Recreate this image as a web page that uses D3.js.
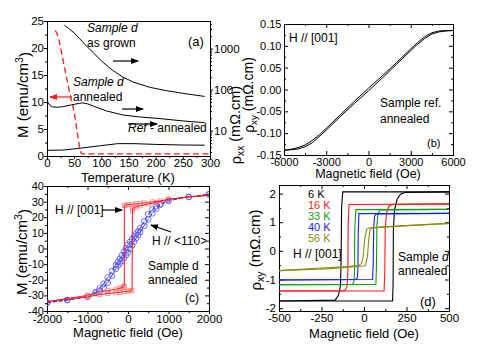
<!DOCTYPE html>
<html>
<head>
<meta charset="utf-8">
<script src="https://cdn.jsdelivr.net/npm/d3@7"></script>
<style>
  body { margin: 0; background: #fff; }
  .axis .domain { display: none; }
  .axis line { stroke: #000; }
  .axis text { fill: #000; }
</style>
</head>
<body>
<div id="chart"></div>
<script>
// ---- (a) M(T) and rho_xx(T) ----
var tempRed = [15, 18, 22, 28, 35, 42, 50, 56, 60, 63, 66, 300];
var magRed = [23.2, 22.8, 21.5, 18.5, 15, 11.5, 8.2, 4.2, 1.5, 0.5, 0.4, 0.4];
var tempGrown = [32, 40, 50, 60, 70, 85, 100, 120, 140, 160, 190, 220, 250, 290];
var rhoGrown = [3700, 3100, 2400, 1750, 1250, 800, 500, 300, 200, 150, 113, 94, 81, 68];
var tempAnn = [1, 5, 10, 20, 30, 45, 60, 66, 75, 86, 110, 140, 170, 210, 250, 290];
var rhoAnn = [50, 41.5, 37.8, 37, 38.5, 42.3, 46.4, 47.3, 44.7, 39.2, 30, 24, 21.5, 19.5, 17.2, 15.6];
var tempRef = [1, 30, 60, 100, 130, 160, 200, 250, 290];
var rhoRef = [3.3, 3.35, 3.7, 4.3, 4.8, 4.8, 4.6, 4.45, 4.4];

// ---- (b) rho_xy(H), reference sample ----
var fieldB = [-6000, -5500, -5000, -4500, -4000, -3500, -3000, -2000, -1000, 0, 1000, 2000, 3000, 3500, 4000, 4500, 5000, 5500, 6000];
var rhoBUp = [-0.139, -0.138, -0.136, -0.131, -0.122, -0.108, -0.093, -0.062, -0.032, -0.003, 0.027, 0.058, 0.089, 0.104, 0.117, 0.127, 0.132, 0.134, 0.135];
var rhoBDown = [-0.139, -0.137, -0.133, -0.127, -0.117, -0.104, -0.089, -0.058, -0.027, 0.003, 0.032, 0.062, 0.093, 0.108, 0.121, 0.130, 0.134, 0.135, 0.135];

// ---- (c) M(H) loops ----
var fieldRedDown = [2000, 1500, 1000, 800, 600, 400, 300, 200, 100, 0, -50, -90, -92, -100, -150, -200, -300, -500, -700, -1000, -1500, -2000];
var magRedDown = [34, 33, 31.5, 30.5, 29.8, 29.2, 28.9, 28.6, 28.3, 28, 27.8, 27.6, -24, -24.5, -25, -25.5, -26, -27, -28, -30, -32, -34];
var fieldRedUp = [-2000, -1500, -1000, -700, -500, -300, -200, -100, 0, 50, 100, 110, 115, 150, 200, 300, 500, 700, 1000, 1500, 2000];
var magRedUp = [-34, -32.5, -31, -29.5, -28.8, -28.3, -28, -27.6, -27.3, -27.1, -27, 24, 25.5, 26.2, 26.6, 27.3, 28.5, 29.5, 31.5, 33, 34];
var fieldBlue = [-2000, -1500, -1000, -800, -700, -600, -500, -400, -300, -250, -200, -150, -100, -50, 0, 50, 100, 150, 200, 250, 300, 400, 500, 600, 700, 800, 1000, 1500, 2000];
var magBlueUp = [-34.7, -33, -31, -28.5, -27, -25, -22, -17.5, -13, -11, -9.5, -7.8, -6, -4.3, -2.5, -0.3, 2, 4.3, 6.5, 8.5, 10.5, 14.5, 18.5, 22.5, 25.5, 28, 30.5, 33, 34.7];
var magBlueDown = [-34.7, -33, -30.5, -28, -25.5, -22.5, -18.5, -14.5, -10.5, -8.5, -6.5, -4.3, -2, 0.3, 2.5, 4.3, 6, 7.8, 9.5, 11, 13, 17.5, 22, 25, 27, 28.5, 31, 33, 34.7];

// ---- (d) rho_xy(H) loops at several temperatures ----
var tempLabels = ["6 K", "16 K", "33 K", "40 K", "56 K"];
var tempColors = ["#000000", "#ff1a1a", "#139a13", "#1a1aff", "#8c8c10"];
var h6Down = [500, -125, -132, -134, -138, -150, -170, -500];
var r6Down = [2.06, 2.06, 1.5, 0, -1.2, -1.55, -1.72, -1.75];
var h6Up = [-500, 168, 171, 173, 180, 195, 215, 240, 500];
var r6Up = [-1.75, -1.75, -1.2, 0.8, 1.45, 1.8, 1.98, 2.04, 2.06];
var h16Down = [500, -88, -93, -95, -100, -110, -125, -500];
var r16Down = [1.64, 1.62, 1.0, -0.8, -1.25, -1.36, -1.40, -1.40];
var h16Up = [-500, 118, 122, 125, 133, 145, 165, 500];
var r16Up = [-1.40, -1.40, -0.8, 0.8, 1.35, 1.55, 1.62, 1.64];
var h33Down = [500, -48, -54, -56, -60, -70, -500];
var r33Down = [1.45, 1.44, 0.8, -0.8, -1.1, -1.17, -1.18];
var h33Up = [-500, 70, 73, 76, 82, 95, 500];
var r33Up = [-1.18, -1.17, -0.6, 0.9, 1.3, 1.43, 1.45];
var h40Down = [500, -30, -34, -36, -40, -48, -500];
var r40Down = [1.31, 1.30, 0.6, -0.7, -0.95, -1.0, -1.02];
var h40Up = [-500, 50, 54, 57, 62, 72, 500];
var r40Up = [-1.02, -1.0, -0.5, 0.8, 1.2, 1.29, 1.31];
var h56Up = [-500, -200, 0, 10, 20, 28, 35, 45, 100, 250, 500];
var r56Up = [-0.69, -0.62, -0.53, -0.48, -0.2, 0.4, 0.72, 0.8, 0.83, 0.88, 0.96];
var h56Down = [500, 250, 100, 30, 15, 5, -5, -15, -30, -100, -250, -500];
var r56Down = [0.96, 0.88, 0.83, 0.8, 0.75, 0.45, -0.2, -0.45, -0.5, -0.55, -0.6, -0.69];
var loopsD = [[h6Down, r6Down, h6Up, r6Up], [h16Down, r16Down, h16Up, r16Up],
              [h33Down, r33Down, h33Up, r33Up], [h40Down, r40Down, h40Up, r40Up],
              [h56Down, r56Down, h56Up, r56Up]];

var font = "'Liberation Sans', Arial, sans-serif";
var svg = d3.select("#chart").append("svg")
    .attr("width", 491).attr("height", 347)
    .style("font-family", font);

var defs = svg.append("defs");
[["arrBlack", "#000"], ["arrRed", "#ff1a1a"]].forEach(function(m) {
  defs.append("marker").attr("id", m[0])
      .attr("markerUnits", "userSpaceOnUse")
      .attr("markerWidth", 8).attr("markerHeight", 6)
      .attr("refX", 7).attr("refY", 3).attr("orient", "auto")
    .append("path").attr("d", "M0,0L8,3L0,6Z").attr("fill", m[1]);
});

var noMinus = function(f) { return function(d) { return f(d).replace("\u2212", "-"); }; };

function drawAxes(x, y, o) {
  var x0 = x.range()[0], x1 = x.range()[1], y0 = y.range()[0], y1 = y.range()[1];
  var s = o.inward ? -1 : 1;
  var g = svg.append("g").attr("class", "axis");
  function put(axis, tr, fs) {
    g.append("g").attr("transform", tr).call(axis)
        .attr("font-family", null).attr("font-size", fs || o.fs);
  }
  put(d3.axisBottom(x).tickValues(o.xMinor).tickSize(2 * s).tickFormat(""), "translate(0," + y0 + ")");
  put(d3.axisBottom(x).tickValues(o.xTicks).tickSize(o.tick * s).tickPadding(o.xPad).tickFormat(o.xFmt), "translate(0," + y0 + ")");
  put(d3.axisLeft(y).tickValues(o.yMinor).tickSize(2 * s).tickFormat(""), "translate(" + x0 + ",0)");
  put(d3.axisLeft(y).tickValues(o.yTicks).tickSize(o.tick * s).tickPadding(o.yPad).tickFormat(o.yFmt), "translate(" + x0 + ",0)", o.yfs);
  if (o.mirror) {
    put(d3.axisTop(x).tickValues(o.xTicks).tickSize(-4).tickFormat(""), "translate(0," + y1 + ")");
    put(d3.axisTop(x).tickValues(o.xMinor).tickSize(-2).tickFormat(""), "translate(0," + y1 + ")");
    put(d3.axisRight(y).tickValues(o.yTicks).tickSize(-4).tickFormat(""), "translate(" + x1 + ",0)");
    put(d3.axisRight(y).tickValues(o.yMinor).tickSize(-2).tickFormat(""), "translate(" + x1 + ",0)");
  }
  svg.append("rect")
      .attr("x", x0 + 0.5).attr("y", y1 + 0.5)
      .attr("width", x1 - x0).attr("height", y0 - y1)
      .attr("fill", "none").attr("stroke", "#000");
}

function clip(id, x, y) {
  defs.append("clipPath").attr("id", id).append("rect")
      .attr("x", x.range()[0]).attr("y", y.range()[1])
      .attr("width", x.range()[1] - x.range()[0]).attr("height", y.range()[0] - y.range()[1]);
  return svg.append("g").attr("clip-path", "url(#" + id + ")");
}

function curve(xs, ys, x, y) {
  return d3.line().x(function(d) { return x(d[0]); }).y(function(d) { return y(d[1]); })(d3.zip(xs, ys));
}

function label(x, y, size, parts, opts) {
  opts = opts || {};
  var t = svg.append("text").attr("x", x).attr("y", y)
      .attr("font-size", size).attr("fill", opts.fill || "#000")
      .attr("text-anchor", opts.anchor || "start");
  if (opts.rotate) t.attr("transform", "rotate(-90," + x + "," + y + ")");
  parts.forEach(function(p) {
    if (typeof p === "string") { t.append("tspan").text(p); return; }
    var sp = t.append("tspan").text(p.t);
    if (p.italic) sp.attr("font-style", "italic");
    if (p.dy) sp.attr("dy", p.dy);
    if (p.size) sp.attr("font-size", p.size);
  });
  return t;
}

function arrow(xa, ya, xb, yb, color, id) {
  svg.append("line").attr("x1", xa).attr("y1", ya).attr("x2", xb).attr("y2", yb)
      .attr("stroke", color).attr("stroke-width", 1.2)
      .attr("marker-end", "url(#" + id + ")");
}

// ================= panel (a) =================
var xa = d3.scaleLinear().domain([0, 300]).range([47, 210]);
var ya = d3.scaleLinear().domain([0, 25]).range([156, 21]);
var yaR = d3.scaleLog().domain([2.4, 4700]).range([156, 21]);

drawAxes(xa, ya, {
  fs: 11.5, tick: 3, xTicks: d3.range(0, 301, 50), xMinor: d3.range(25, 300, 50),
  yTicks: d3.range(0, 26, 5), yMinor: d3.range(2.5, 25, 5),
  xPad: 0, yPad: 0, xFmt: d3.format("d"), yFmt: d3.format("d")
});
var rightG = svg.append("g").attr("class", "axis").attr("transform", "translate(210,0)");
rightG.append("g").call(d3.axisRight(yaR).tickValues(yaR.ticks().filter(function(d) {
    return [10, 100, 1000].indexOf(d) < 0; })).tickSize(2).tickFormat(""));
rightG.append("g").call(d3.axisRight(yaR).tickValues([10, 100, 1000]).tickSize(3).tickPadding(1).tickFormat(d3.format("d")))
    .attr("font-family", null).attr("font-size", 11.5);

var ga = clip("clipA", xa, ya);
ga.append("path").attr("d", curve(tempRed, magRed, xa, ya))
    .attr("fill", "none").attr("stroke", "#ff1a1a").attr("stroke-width", 1.3).attr("stroke-dasharray", "6,3.5");
[[tempGrown, rhoGrown], [tempAnn, rhoAnn], [tempRef, rhoRef]].forEach(function(s) {
  ga.append("path").attr("d", curve(s[0], s[1], xa, yaR))
      .attr("fill", "none").attr("stroke", "#000").attr("stroke-width", 1);
});

label(87, 32, 12, [{t: "Sample d", italic: true}]);
label(87, 47, 12, ["as grown"]);
arrow(113, 61, 138, 61, "#000", "arrBlack");
label(73, 86, 12, [{t: "Sample d", italic: true}]);
label(73, 101, 12, ["annealed"]);
arrow(72, 97, 50, 97, "#ff1a1a", "arrRed");
arrow(122, 109, 143, 109, "#000", "arrBlack");
label(128, 132, 12, [{t: "Ref", italic: true}, " - annealed"]);
arrow(128, 124, 157, 124, "#000", "arrBlack");
label(188, 46, 13, ["(a)"]);

label(128, 181.5, 13, ["Temperature (K)"], {anchor: "middle"});
label(28, 95, 15, ["M (emu/cm", {t: "3", dy: "-0.45em", size: "70%"}, {t: ")", dy: "0.45em"}], {anchor: "middle", rotate: true});
label(241, 125, 14.5, ["\u03c1", {t: "xx", dy: "0.3em", size: "70%"}, {t: " (m\u03a9.cm)", dy: "-0.3em"}], {anchor: "middle", rotate: true});

// ================= panel (b) =================
var xb = d3.scaleLinear().domain([-6000, 6000]).range([284, 453]);
var yb = d3.scaleLinear().domain([-0.15, 0.15]).range([155, 24]);
drawAxes(xb, yb, {
  fs: 11, tick: 4, inward: true, mirror: true,
  xTicks: d3.range(-6000, 6001, 3000), xMinor: d3.range(-4500, 6000, 3000),
  yTicks: d3.range(-0.15, 0.151, 0.05), yMinor: d3.range(-0.125, 0.15, 0.05),
  xPad: 3, yPad: 2.5, xFmt: noMinus(d3.format("d")), yFmt: noMinus(d3.format(".2f"))
});
var gb = clip("clipB", xb, yb);
[rhoBUp, rhoBDown].forEach(function(v) {
  gb.append("path").attr("d", curve(fieldB, v, xb, yb))
      .attr("fill", "none").attr("stroke", "#000").attr("stroke-width", 1);
});
label(289, 42, 12, ["H // [001]"]);
label(380, 107, 12, ["Sample ref."]);
label(380, 123, 12, ["annealed"]);
label(427, 147, 11, ["(b)"]);
label(368, 178, 12.5, ["Magnetic field (Oe)"], {anchor: "middle"});
label(254, 95, 14, ["\u03c1", {t: "xy", dy: "0.3em", size: "70%"}, {t: " (m\u03a9.cm)", dy: "-0.3em"}], {anchor: "middle", rotate: true});

// ================= panel (c) =================
var xc = d3.scaleLinear().domain([-2000, 2000]).range([47, 209]);
var yc = d3.scaleLinear().domain([-40, 40]).range([311, 186]);
drawAxes(xc, yc, {
  fs: 11.5, yfs: 11, tick: 3, mirror: true,
  xTicks: d3.range(-2000, 2001, 1000), xMinor: d3.range(-1500, 2000, 1000),
  yTicks: d3.range(-40, 41, 10), yMinor: d3.range(-35, 40, 10),
  xPad: 1, yPad: 0, xFmt: noMinus(d3.format("d")), yFmt: noMinus(d3.format("d"))
});
var gc = clip("clipC", xc, yc);
[[fieldBlue, magBlueUp], [fieldBlue, magBlueDown]].forEach(function(s) {
  gc.append("path").attr("d", curve(s[0], s[1], xc, yc))
      .attr("fill", "none").attr("stroke", "#3030ff").attr("stroke-width", 1).attr("stroke-dasharray", "4,2");
  gc.selectAll(null).data(d3.zip(s[0], s[1])).enter().append("circle")
      .attr("cx", function(d) { return xc(d[0]); }).attr("cy", function(d) { return yc(d[1]); })
      .attr("r", 2.8).attr("fill", "none").attr("stroke", "#5050ff").attr("stroke-width", 0.8);
});
[[fieldRedDown, magRedDown], [fieldRedUp, magRedUp]].forEach(function(s) {
  gc.selectAll(null).data(d3.zip(s[0], s[1]).filter(function(d) { return Math.abs(d[0]) <= 1000; }))
    .enter().append("rect")
      .attr("x", function(d) { return xc(d[0]) - 2; }).attr("y", function(d) { return yc(d[1]) - 2; })
      .attr("width", 4).attr("height", 4)
      .attr("fill", "none").attr("stroke", "#ff8080").attr("stroke-width", 0.8);
  gc.append("path").attr("d", curve(s[0], s[1], xc, yc))
      .attr("fill", "none").attr("stroke", "#ff1a1a").attr("stroke-width", 1);
});
label(55, 214, 12, ["H // [001]"]);
arrow(102, 210, 122, 210, "#000", "arrBlack");
label(152, 245, 12, ["H // <110>"]);
arrow(171, 232, 151, 225, "#000", "arrBlack");
label(148, 270, 12, ["Sample d"]);
label(148, 284, 12, ["annealed"]);
label(185, 302, 12, ["(c)"]);
label(128, 337, 13, ["Magnetic field (Oe)"], {anchor: "middle"});
label(27, 252, 15, ["M (emu/cm", {t: "3", dy: "-0.45em", size: "70%"}, {t: ")", dy: "0.45em"}], {anchor: "middle", rotate: true});

// ================= panel (d) =================
var xd = d3.scaleLinear().domain([-500, 500]).range([279, 449]);
var yd = d3.scaleLinear().domain([-2.1, 2.3]).range([311, 185]);
drawAxes(xd, yd, {
  fs: 11.5, tick: 4, inward: true, mirror: true,
  xTicks: d3.range(-500, 501, 250), xMinor: d3.range(-375, 500, 250),
  yTicks: d3.range(-2, 2.01, 1), yMinor: d3.range(-1.5, 2.3, 1),
  xPad: 3, yPad: 3, xFmt: noMinus(d3.format("d")), yFmt: noMinus(d3.format("d"))
});
var gd = clip("clipD", xd, yd);
loopsD.forEach(function(l, i) {
  [[l[0], l[1]], [l[2], l[3]]].forEach(function(s) {
    gd.append("path").attr("d", curve(s[0], s[1], xd, yd))
        .attr("fill", "none").attr("stroke", tempColors[i]).attr("stroke-width", 1.1);
  });
});
tempLabels.forEach(function(t, i) {
  label(308, 198 + i * 11, 11, [t], {fill: tempColors[i]});
});
label(293, 258, 12, ["H // [001]"]);
label(398, 261, 12, ["Sample ", {t: "d", italic: true}]);
label(398, 275, 12, ["annealed"]);
label(420, 306, 13, ["(d)"]);
label(364, 337.5, 13, ["Magnetic field (Oe)"], {anchor: "middle"});
label(261, 250, 15, ["\u03c1", {t: "xy", dy: "0.3em", size: "70%"}, {t: " (m\u03a9.cm)", dy: "-0.3em"}], {anchor: "middle", rotate: true});
</script>
</body>
</html>
